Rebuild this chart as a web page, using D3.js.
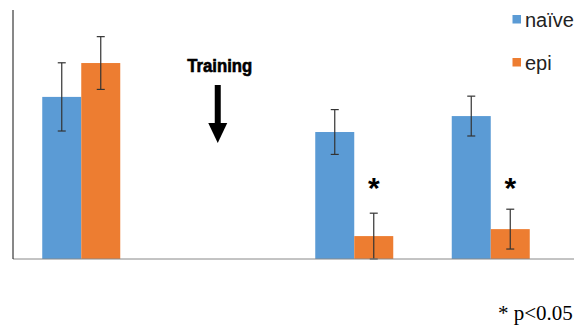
<!DOCTYPE html>
<html>
<head>
<meta charset="utf-8">
<script src="https://cdn.jsdelivr.net/npm/d3@7/dist/d3.min.js"></script>
<style>
  html, body { margin: 0; padding: 0; background: #fff; }
  svg { display: block; }
</style>
</head>
<body>
<svg id="chart" width="574" height="326"></svg>
<script>
// Groups along the x axis; the second slot is left empty for the training marker
const categories = ["pre", "training", "post1", "post2"];
const seriesNames = ["naïve", "epi"];
const naiveValues = [65.1, null, 51.0, 57.4];
const epiValues   = [78.7, null, 9.2, 12.0];
const naiveErrors = [13.7, null, 9.0, 8.0];
const epiErrors   = [10.6, null, 9.2, 8.0];
const significant = [false, false, true, true];
const colors = ["#5B9BD5", "#ED7D31"];

const svg = d3.select("#chart");
const margin = { left: 13, top: 10, bottom: 67 };
const width = 574, height = 326;
const plotBottom = height - margin.bottom;

const x = d3.scaleBand()
  .domain(categories)
  .range([margin.left, margin.left + 4 * 136.5])
  .paddingInner(0)
  .paddingOuter(0);

const x1 = d3.scaleBand()
  .domain(seriesNames)
  .range([0, 78]);

const y = d3.scaleLinear()
  .domain([0, 100])
  .range([plotBottom, margin.top]);

const values = [naiveValues, epiValues];
const errors = [naiveErrors, epiErrors];

const data = [];
categories.forEach((c, i) => {
  seriesNames.forEach((s, j) => {
    if (values[j][i] != null) {
      data.push({ cat: c, series: s, value: values[j][i], err: errors[j][i], color: colors[j] });
    }
  });
});

const groupOffset = (x.bandwidth() - 78) / 2;

// bars
svg.append("g").selectAll("rect")
  .data(data)
  .join("rect")
  .attr("x", d => x(d.cat) + groupOffset + x1(d.series))
  .attr("y", d => y(d.value))
  .attr("width", x1.bandwidth())
  .attr("height", d => y(0) - y(d.value))
  .attr("fill", d => d.color);

// error bars
const eb = svg.append("g")
  .attr("stroke", "#333")
  .attr("stroke-width", 1.2);
data.forEach(d => {
  const cx = x(d.cat) + groupOffset + x1(d.series) + x1.bandwidth() / 2;
  const top = y(d.value + d.err);
  const bot = y(Math.max(0, d.value - d.err));
  eb.append("line").attr("x1", cx).attr("x2", cx).attr("y1", top).attr("y2", bot);
  eb.append("line").attr("x1", cx - 4).attr("x2", cx + 4).attr("y1", top).attr("y2", top);
  eb.append("line").attr("x1", cx - 4).attr("x2", cx + 4).attr("y1", bot).attr("y2", bot);
});

// axes
svg.append("line")
  .attr("x1", margin.left).attr("x2", width)
  .attr("y1", y(0)).attr("y2", y(0))
  .attr("stroke", "#888").attr("stroke-width", 1);
svg.append("line")
  .attr("x1", margin.left).attr("x2", margin.left)
  .attr("y1", y(100)).attr("y2", y(0))
  .attr("stroke", "#111").attr("stroke-width", 1);

// significance markers above the epi bars
categories.forEach((c, i) => {
  if (!significant[i]) return;
  const cx = x(c) + groupOffset + x1("epi") + x1.bandwidth() / 2;
  svg.append("text")
    .attr("x", cx)
    .attr("y", 198)
    .attr("text-anchor", "middle")
    .attr("font-family", "Liberation Sans, Arial, sans-serif")
    .attr("font-weight", "bold")
    .attr("font-size", 30)
    .attr("fill", "#000")
    .text("*");
});

// training marker
const tx = x("training") + x.bandwidth() / 2;
svg.append("text")
  .attr("x", tx + 2)
  .attr("y", 72)
  .attr("text-anchor", "middle")
  .attr("font-family", "Liberation Sans, Arial, sans-serif")
  .attr("font-weight", "bold")
  .attr("font-size", 18)
  .attr("textLength", 65)
  .attr("lengthAdjust", "spacingAndGlyphs")
  .attr("fill", "#000")
  .attr("stroke", "#000")
  .attr("stroke-width", 0.6)
  .text("Training");
svg.append("rect")
  .attr("x", tx - 3).attr("y", 85)
  .attr("width", 6).attr("height", 40)
  .attr("fill", "#000");
svg.append("path")
  .attr("d", `M${tx - 9.5},123 L${tx + 9.5},123 L${tx},143 Z`)
  .attr("fill", "#000");

// legend
const legend = svg.append("g");
seriesNames.forEach((s, j) => {
  const ly = [15, 58][j];
  legend.append("rect")
    .attr("x", 512.5).attr("y", ly)
    .attr("width", 8.5).attr("height", 8.5)
    .attr("fill", colors[j]);
  legend.append("text")
    .attr("x", 525).attr("y", ly + 12)
    .attr("font-family", "Liberation Sans, Arial, sans-serif")
    .attr("font-size", 20)
    .attr("fill", "#222")
    .text(s);
});

// footnote
svg.append("text")
  .attr("x", 498).attr("y", 320)
  .attr("font-family", "Liberation Serif, Times New Roman, serif")
  .attr("font-size", 21)
  .attr("fill", "#000")
  .text("* p<0.05");
</script>
</body>
</html>
